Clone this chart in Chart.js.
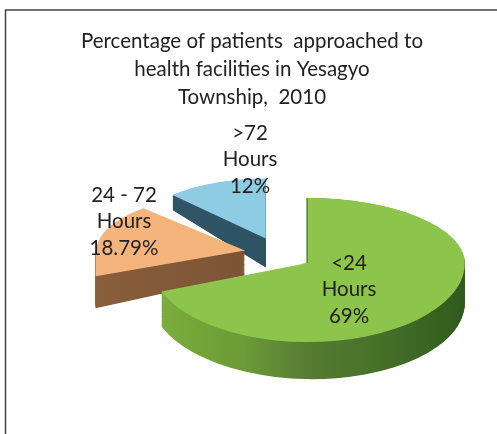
<!DOCTYPE html>
<html lang="en">
<head>
    <meta charset="UTF-8">
    <title>Percentage of patients approached to health facilities</title>
    <script src="https://cdn.jsdelivr.net/npm/chart.js"></script>
    <style>
        html, body { margin: 0; padding: 0; background: #fff; }
        canvas { display: block; }
    </style>
</head>
<body>
    <canvas id="pieChart" width="497" height="434"></canvas>

    <script>
        const titleLines = ["Percentage of patients  approached to", "health facilities in Yesagyo", "Township,  2010"];
        const categories = ["<24 Hours", "24 - 72 Hours", ">72 Hours"];
        const percentages = [69, 18.79, 12];
        const labelLines = [["<24", "Hours", "69%"], ["24 - 72", "Hours", "18.79%"], [">72", "Hours", "12%"]];

        // look of the tilted pie, one entry per slice
        const topColors = ["#8cc44c", "#f5b47c", "#8dcce2"];
        const sideStops = [
            [[0, "#7bb03c"], [0.3, "#6c9a36"], [0.5, "#567c33"], [0.75, "#456f28"], [1, "#2f5a1c"]],
            [[0, "#8a5f3c"], [1, "#6d4a30"]],
            [[0, "#2f5668"], [1, "#2c4f5f"]]
        ];
        const explode = [35, 35, 36];
        const radiusXUp = [157, 148, 136];
        const radiusXDown = [157, 160, 136];
        const radiusUp = [65, 58, 60];
        const radiusDown = [79, 72, 60];
        const depth = [37, 25, 29];
        const depthSlope = [0.015, -0.047, 0.15];
        const trimSide = [false, true, true];
        const labelCenters = [[349, 263], [124, 195], [250, 133]];

        const pieCenter = { x: 279, y: 254 };
        const tilt = 0.46;
        const layers = 40;

        function slicePlace(arc, i) {
            const mid = (arc.startAngle + arc.endAngle) / 2;
            return {
                x: pieCenter.x + explode[i] * Math.cos(mid),
                y: pieCenter.y + explode[i] * tilt * Math.sin(mid)
            };
        }

        // one arc of the library, squashed into half an ellipse and pushed down by t of its depth
        function paintHalf(ctx, arc, i, t, fill, lower, dx) {
            const place = slicePlace(arc, i);
            const R = arc.outerRadius;
            const sx = (lower ? radiusXDown[i] : radiusXUp[i]) / R;
            const sy = (lower ? radiusDown[i] : radiusUp[i]) / R;
            ctx.save();
            ctx.transform(1, t * depthSlope[i], 0, 1, place.x + (dx || 0), place.y + t * depth[i]);
            ctx.beginPath();
            // side slices stop at the x of their outer corner, no bulge past it
            let left = -600;
            if (trimSide[i] && (lower || t > 0)) left = Math.cos(arc.startAngle) * radiusXDown[i];
            if (lower) ctx.rect(left, 0, 1200, 600);
            else ctx.rect(left, -600, 1200, 600.5);
            ctx.clip();
            ctx.scale(sx, sy);
            ctx.translate(-arc.x, -arc.y);
            const piece = Object.create(arc);
            let style = fill;
            if (Array.isArray(fill)) {
                // gradient runs over the width of the slice, given in arc space
                const grad = ctx.createLinearGradient(arc.x - R, 0, arc.x + R, 0);
                fill.forEach(s => grad.addColorStop(s[0], s[1]));
                style = grad;
            }
            piece.options = Object.assign({}, arc.options, { backgroundColor: style, borderWidth: 0, offset: 0 });
            piece.draw(ctx);
            ctx.restore();
        }

        const tiltedPie = {
            id: "tiltedPie",
            beforeDraw(chart) {
                const ctx = chart.ctx;
                ctx.save();
                ctx.strokeStyle = "#444";
                ctx.lineWidth = 1.5;
                ctx.beginPath();
                ctx.moveTo(5.5, 434);
                ctx.lineTo(5.5, 10);
                ctx.lineTo(497, 10);
                ctx.stroke();
                ctx.restore();
            },
            beforeDatasetsDraw(chart) {
                const ctx = chart.ctx;
                const arcs = chart.getDatasetMeta(0).data;
                // back slices first, green lies over the others
                for (let i = arcs.length - 1; i >= 0; i--) {
                    for (let l = layers; l > 0; l--) {
                        paintHalf(ctx, arcs[i], i, l / layers, sideStops[i], true);
                        paintHalf(ctx, arcs[i], i, l / layers, sideStops[i], false);
                    }
                    // thin dark edge along the straight cut of the green slice
                    if (i === 0) paintHalf(ctx, arcs[i], i, 0, "#5d8234", false, -1.5);
                    paintHalf(ctx, arcs[i], i, 0, topColors[i], false);
                    paintHalf(ctx, arcs[i], i, 0, topColors[i], true);
                }
                return false;
            },
            afterDraw(chart) {
                const ctx = chart.ctx;
                ctx.save();
                ctx.font = "20.5px Lato";
                ctx.fillStyle = "#222";
                ctx.textAlign = "center";
                ctx.textBaseline = "middle";
                labelLines.forEach((lines, i) => {
                    lines.forEach((line, n) => {
                        ctx.fillText(line, labelCenters[i][0], labelCenters[i][1] + n * 26.5);
                    });
                });
                ctx.restore();
            }
        };

        new Chart(document.getElementById("pieChart").getContext("2d"), {
            type: "pie",
            data: {
                labels: categories,
                datasets: [{
                    data: percentages,
                    backgroundColor: topColors,
                    borderWidth: 0
                }]
            },
            options: {
                responsive: false,
                animation: false,
                layout: { padding: { left: 7, top: 18 } },
                plugins: {
                    legend: { display: false },
                    tooltip: { enabled: false },
                    title: {
                        display: true,
                        text: titleLines,
                        color: "#222",
                        font: { family: "Lato", size: 20.5, weight: "normal", lineHeight: 1.35 }
                    }
                }
            },
            plugins: [tiltedPie]
        });
    </script>
</body>
</html>
